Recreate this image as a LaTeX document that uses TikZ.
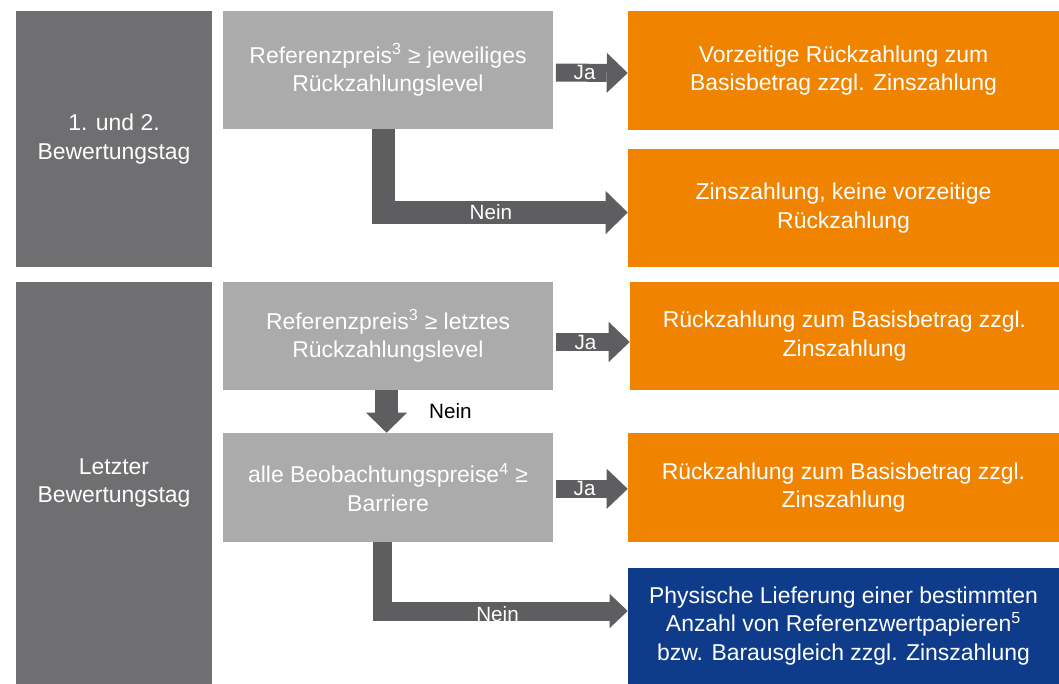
\documentclass[tikz,border=0pt]{standalone}
\usepackage{fontspec}
\setmainfont{Liberation Sans}
\usepackage{tikz}
\usetikzlibrary{arrows.meta}

\definecolor{tagGrau}{HTML}{6F6F71}
\definecolor{frageGrau}{HTML}{ABABAB}
\definecolor{pfeilGrau}{HTML}{5E5E60}
\definecolor{orange}{HTML}{F08300}
\definecolor{blau}{HTML}{0F3C8A}

\begin{document}
\begin{tikzpicture}[x=0.75pt,y=-0.75pt]
					\tikzstyle{box}=[rectangle,inner sep=0pt,align=center,text=white,font=\fontsize{17.2}{21.5}\selectfont]
					\tikzstyle{tag}=[box,fill=tagGrau,minimum width=147pt]
					\tikzstyle{frage}=[box,fill=frageGrau,minimum width=247.5pt]
					\tikzstyle{folge}=[box,fill=orange,minimum width=323.25pt]
					\tikzstyle{ja}=[draw=pfeilGrau,line width=13.5pt,-{Triangle[length=15.75pt,width=30pt,line width=0pt]}]
					\tikzstyle{nein}=[draw=pfeilGrau,line width=17.25pt,-{Triangle[length=16.5pt,width=32.25pt,line width=0pt]}]
					\tikzstyle{label}=[font=\fontsize{15.5}{18}\selectfont,text=white]
					\useasboundingbox (0,0) rectangle (1059,684);
					\node[tag,minimum height=192pt] (1) at (114,139) {1. und 2.\\Bewertungstag};
					\node[tag,minimum height=301.5pt] (2) at (114,483) {Letzter\\Bewertungstag};
					\node[frage,minimum height=88.5pt] (3) at (388,70) {Referenzpreis\textsuperscript{3} ≥ jeweiliges\\Rückzahlungslevel};
					\node[frage,minimum height=81pt] (4) at (388,336) {Referenzpreis\textsuperscript{3} ≥ letztes\\Rückzahlungslevel};
					\node[frage,minimum height=81.75pt] (5) at (388,487.5) {alle Beobachtungspreise\textsuperscript{4} ≥\\Barriere};
					\node[folge,minimum height=89.25pt] (6) at (843.5,70.5) {Vorzeitige Rückzahlung zum\\Basisbetrag zzgl. Zinszahlung};
					\node[folge,minimum height=88.5pt] (7) at (843.5,208) {Zinszahlung, keine vorzeitige\\Rückzahlung};
					\node[folge,minimum height=81pt,minimum width=321.75pt] (8) at (844.5,336) {Rückzahlung zum Basisbetrag zzgl.\\Zinszahlung};
					\node[folge,minimum height=81.75pt] (9) at (843.5,487.5) {Rückzahlung zum Basisbetrag zzgl.\\Zinszahlung};
					\node[box,fill=blau,minimum width=323.25pt,minimum height=87pt] (10) at (843.5,626) {Physische Lieferung einer bestimmten\\Anzahl von Referenzwertpapieren\textsuperscript{5}\\bzw. Barausgleich zzgl. Zinszahlung};
					% Ja
					\draw[ja] ([xshift=2pt,yshift=-1.9pt]3.east) -- ([yshift=-1.9pt]6.west) node[label,pos=0.4] {Ja};
					\draw[ja] ([xshift=2pt,yshift=-4.5pt]4.east) -- ([yshift=-4.5pt]8.west) node[label,pos=0.4] {Ja};
					\draw[ja] ([xshift=2pt,yshift=-1pt]5.east) -- ([yshift=-1pt]9.west) node[label,pos=0.4] {Ja};
					% Nein
					\draw[nein] ([xshift=-3.4pt]3.south) |- ([yshift=-3.4pt]7.west) node[label,pos=0.72] {Nein};
					\draw[nein,line width=17.25pt,-{Triangle[length=15pt,width=30.75pt,line width=0pt]}] ([xshift=-1.1pt]4.south) -- ([xshift=-1.1pt]5.north) node[label,midway,anchor=west,xshift=20pt,text=black] {Nein};
					\draw[nein,line width=14.25pt,-{Triangle[length=13.5pt,width=25.5pt,line width=0pt]}] ([xshift=-4.5pt]5.south) |- ([yshift=11.25pt]10.west) node[label,pos=0.735,yshift=-2.5pt] {Nein};
\end{tikzpicture}
\end{document}
